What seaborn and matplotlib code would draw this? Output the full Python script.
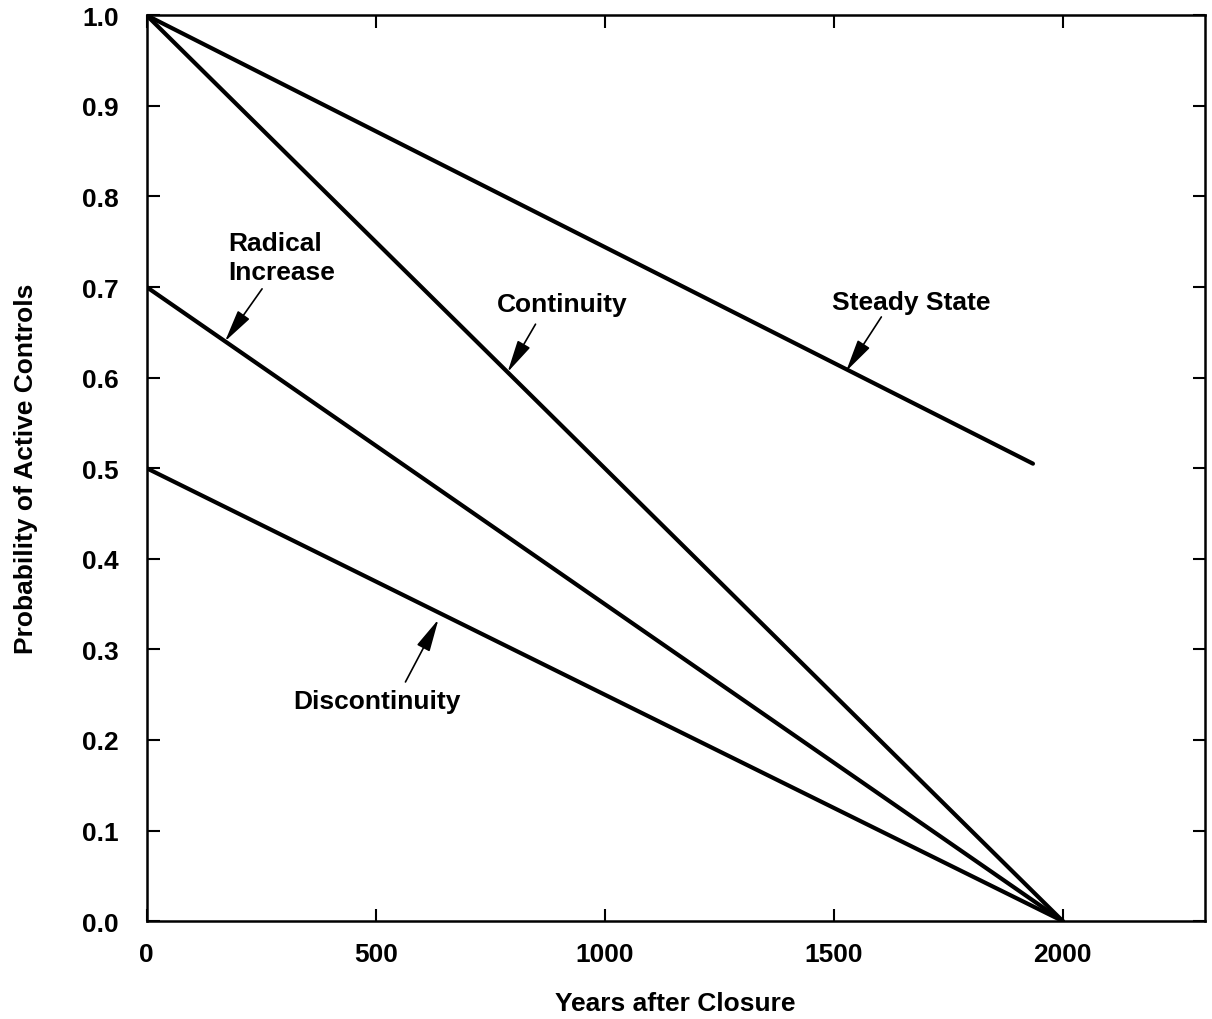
import matplotlib
matplotlib.use("Agg")
import matplotlib.pyplot as plt
import pandas as pd
import seaborn as sns

# scenario endpoints
scenarios = ["Steady State", "Continuity", "Radical Increase", "Discontinuity"]
years_start = [0, 0, 0, 0]
years_end = [1935, 2000, 2000, 2000]
prob_start = [1.0, 1.0, 0.7, 0.5]
prob_end = [0.505, 0.0, 0.0, 0.0]

x_ticks = [0, 500, 1000, 1500, 2000]
y_ticks = [0.0, 0.1, 0.2, 0.3, 0.4, 0.5, 0.6, 0.7, 0.8, 0.9, 1.0]

rows = []
for name, x0, x1, y0, y1 in zip(scenarios, years_start, years_end, prob_start, prob_end):
    rows.append({"scenario": name, "years": x0, "prob": y0})
    rows.append({"scenario": name, "years": x1, "prob": y1})
df = pd.DataFrame(rows)

sns.set_style("ticks", {"axes.edgecolor": "black", "text.color": "black",
                        "xtick.color": "black", "ytick.color": "black",
                        "axes.labelcolor": "black"})
plt.rcParams["font.family"] = ["Liberation Sans", "DejaVu Sans"]
plt.rcParams["font.weight"] = "bold"

fig = plt.figure(figsize=(12.12, 10.2), dpi=100)
ax = fig.add_axes([0.121, 0.096, 0.873, 0.888])

sns.lineplot(data=df, x="years", y="prob", units="scenario", estimator=None,
             color="black", linewidth=3, ax=ax, legend=False)

ax.set_xlim(0, 2310)
ax.set_ylim(0, 1.0)
ax.set_xticks(x_ticks)
ax.set_yticks(y_ticks)
ax.set_yticklabels([f"{v:.1f}" for v in y_ticks])
ax.tick_params(direction="in", length=9, width=1.5, labelsize=19,
               top=True, right=True, labeltop=False, labelright=False)
ax.tick_params(axis="x", pad=15)
ax.tick_params(axis="y", pad=20)
for s in ax.spines.values():
    s.set_linewidth(1.8)
    s.set_visible(True)

ax.set_xlabel("Years after Closure", fontsize=19, fontweight="bold", labelpad=18)
ax.set_ylabel("Probability of Active Controls", fontsize=19, fontweight="bold", labelpad=32)

arrow = dict(arrowstyle="-|>,head_length=1.0,head_width=0.22", color="black",
             lw=1.2, shrinkA=0, shrinkB=0, mutation_scale=20)
label_kw = dict(fontsize=19, fontweight="bold", va="center")

ax.annotate("", xy=(171, 0.64), xytext=(252, 0.698), arrowprops=arrow)
ax.text(179, 0.733, "Radical\nIncrease", ha="left", linespacing=1.25, **label_kw)

ax.annotate("", xy=(788, 0.606), xytext=(849, 0.659), arrowprops=arrow)
ax.text(908, 0.681, "Continuity", ha="center", **label_kw)

ax.annotate("", xy=(1527, 0.607), xytext=(1604, 0.667), arrowprops=arrow)
ax.text(1670, 0.684, "Steady State", ha="center", **label_kw)

ax.annotate("", xy=(637, 0.333), xytext=(565, 0.264), arrowprops=arrow)
ax.text(503, 0.243, "Discontinuity", ha="center", **label_kw)

fig.savefig("out.png", dpi=100)
